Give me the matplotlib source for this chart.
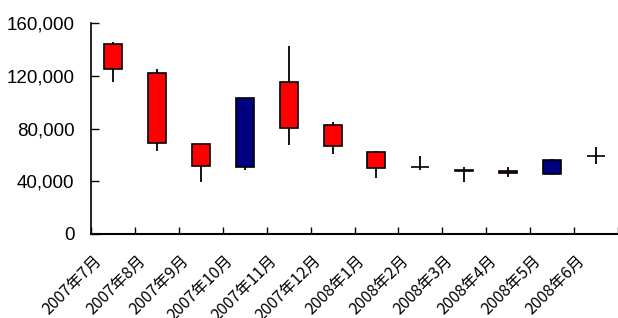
import matplotlib
matplotlib.use('Agg')
import matplotlib.pyplot as plt
from matplotlib.transforms import ScaledTranslation
from matplotlib.ticker import FuncFormatter, MultipleLocator, FixedLocator
import numpy as np

months = ['2007年7月', '2007年8月', '2007年9月', '2007年10月', '2007年11月', '2007年12月',
          '2008年1月', '2008年2月', '2008年3月', '2008年4月', '2008年5月', '2008年6月']
open_ = [144300, 122100, 67900, 50500, 115300, 82900, 62200, 50800, 48800, 47800, 45200, 59400]
close = [125300, 69000, 51600, 103100, 80400, 66400, 50000, 50800, 48000, 46000, 55800, 59400]
high = [145800, 124900, 68500, 103100, 142300, 85200, 63200, 58800, 50800, 50800, 57100, 66000]
low = [115000, 62600, 39100, 48200, 67200, 60900, 42500, 48200, 39100, 43200, 44500, 53100]

plt.rcParams['font.family'] = ['Liberation Sans', 'Noto Sans CJK JP']

fig = plt.figure(figsize=(6.18, 3.18), dpi=100)
ax = fig.add_axes([91/618, 1 - 234/318, 1 - 91/618, 211/318])

x = np.arange(len(months))
o = np.array(open_)
c = np.array(close)
# red = down month, navy = up month
cols = ['#FF0000' if cc <= oo else '#000080' for oo, cc in zip(o, c)]

ax.vlines(x, low, high, color='black', linewidth=1.3, zorder=2)
ax.bar(x, np.abs(c - o), bottom=np.minimum(o, c), width=0.41, color=cols,
       edgecolor='black', linewidth=1.2, zorder=3)

ax.set_xlim(-0.5, len(months) - 0.5)
ax.set_ylim(0, 160000)
ax.yaxis.set_major_locator(MultipleLocator(40000))
ax.yaxis.set_major_formatter(FuncFormatter(lambda v, p: f'{int(v):,}'))

ax.xaxis.set_major_locator(FixedLocator(x))
ax.xaxis.set_minor_locator(FixedLocator(np.arange(len(months) + 1) - 0.5))
ax.set_xticklabels(months, rotation=45, ha='right', va='top',
                   fontsize=11.5, family=['Noto Sans CJK JP'])
ax.tick_params(axis='x', which='major', length=0, pad=13)
ax.tick_params(axis='x', which='minor', direction='in', length=5, width=1)
ax.tick_params(axis='y', direction='in', length=6, width=1, labelsize=13.5, pad=12)

for lab in ax.get_xticklabels():
    lab.set_transform(lab.get_transform() + ScaledTranslation(-8/100, 0, fig.dpi_scale_trans))

ax.spines['top'].set_visible(False)
ax.spines['right'].set_visible(False)
ax.spines['left'].set_linewidth(1.2)
ax.spines['bottom'].set_linewidth(1.5)

fig.savefig('out.png', dpi=100)
